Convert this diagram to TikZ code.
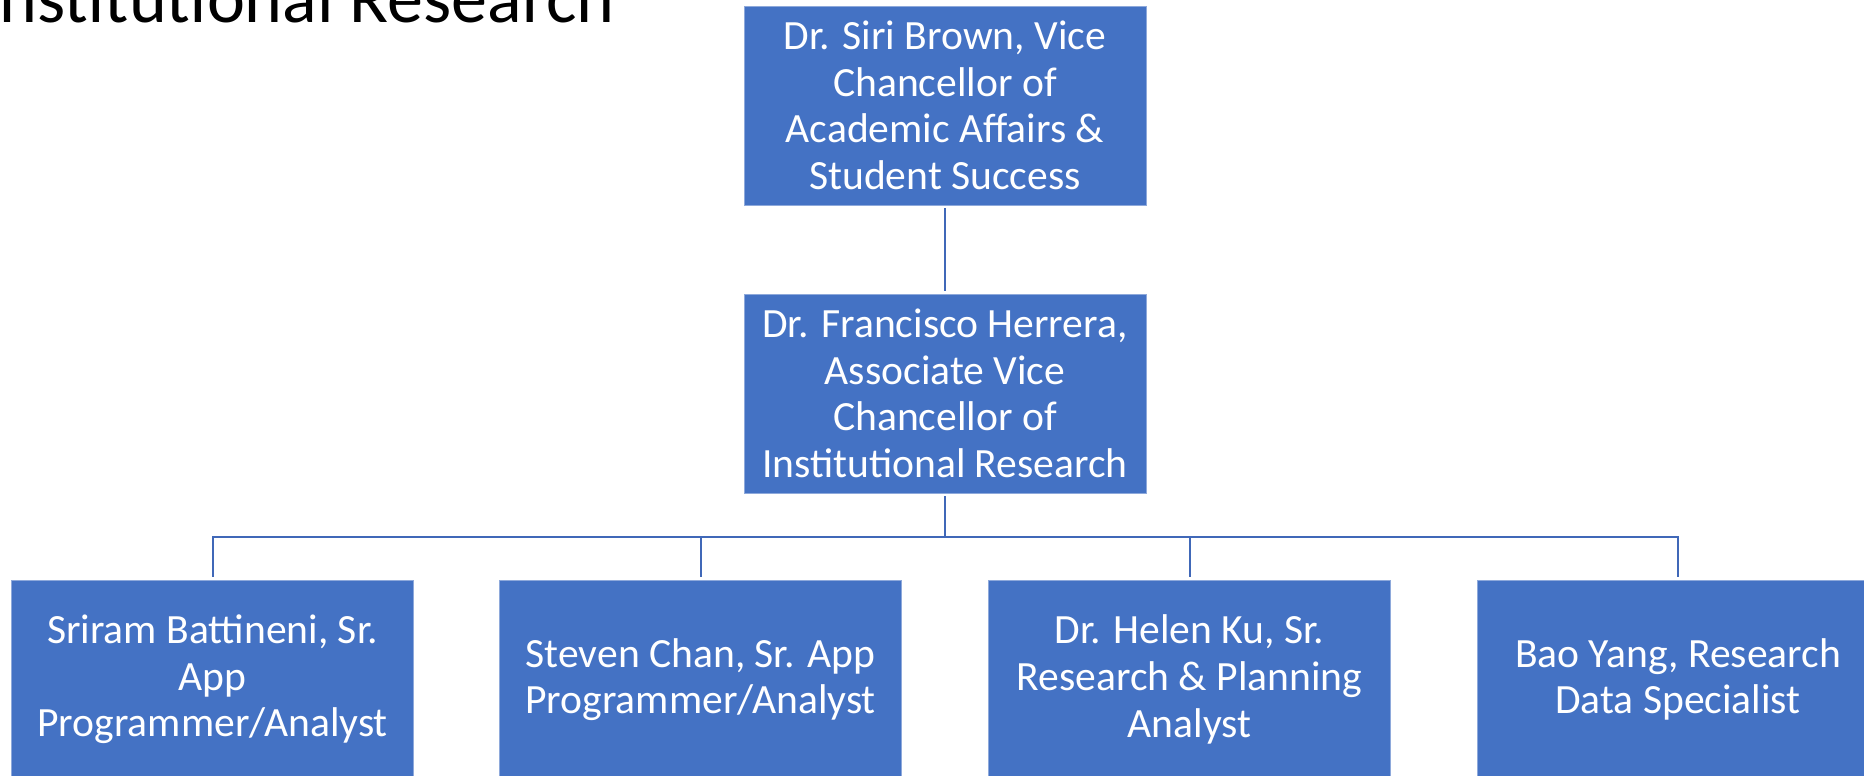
\documentclass[tikz,border=0pt]{standalone}
\usepackage{fontspec}
\setmainfont{Carlito}
\usetikzlibrary{positioning}

\definecolor{orgblue}{HTML}{4472C4}
\definecolor{orgedge}{HTML}{8EA9DB}
\definecolor{orgline}{HTML}{4068B8}

\begin{document}
\begin{tikzpicture}
	[
	x = 0.5pt,
	y = -0.5pt,
	person/.style = {rectangle, fill = orgblue, draw = orgedge, line width = 0.4pt,
		minimum width = 201pt, minimum height = 99.5pt, inner sep = 0pt,
		align = center, text = white, font = \fontsize{20.8}{23.3}\selectfont},
	link/.style = {color = orgline, line width = 1pt},
	heading/.style = {anchor = base east, inner sep = 0pt, font = \fontsize{36}{40}\selectfont}]
	
	\clip (0,0) rectangle (1864,776);
	
	%% title, cut by the page
	\node[heading] (title) at (615,23) {Institutional Research};
	
	%% the two chancellors
	\node[person] (vc) at (945,105.5) {Dr. Siri Brown, Vice\\Chancellor of\\Academic Affairs \&\\Student Success};
	\node[person] (avc) at (945,393.5) {Dr. Francisco Herrera,\\Associate Vice\\Chancellor of\\Institutional Research};
	
	%% staff
	\node[person] (battineni) at (212.5,679.5) {Sriram Battineni, Sr.\\App\\Programmer/Analyst};
	\node[person] (chan) at (700.5,679.5) {Steven Chan, Sr. App\\Programmer/Analyst};
	\node[person] (ku) at (1189.5,679.5) {Dr. Helen Ku, Sr.\\Research \& Planning\\Analyst};
	\node[person] (yang) at (1678,679.5) {Bao Yang, Research\\Data Specialist};
	
	%% connectors
	\coordinate (bus) at (945,537);
	
	\draw[link, shorten < = 1.5pt, shorten > = 1.5pt] (vc) -- (avc);
	\draw[link, shorten < = 1.5pt] (avc) -- (bus);
	\foreach \staff in {battineni, chan, ku, yang}
	{
		\draw[link, shorten > = 1.5pt] (bus) -| (\staff);
	}
\end{tikzpicture}
\end{document}
